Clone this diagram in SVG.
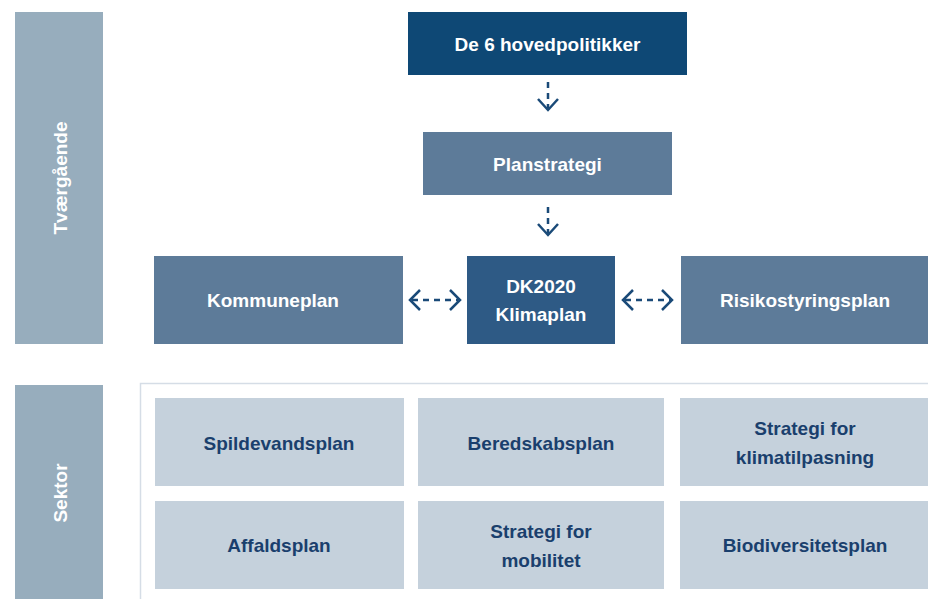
<svg xmlns="http://www.w3.org/2000/svg" width="928" height="599" viewBox="0 0 928 599">
<style>
.side{fill:#97adbd}
.t{font-family:"Liberation Sans",Arial,sans-serif;font-weight:bold;font-size:19px;text-anchor:middle;dominant-baseline:central}
.w{fill:#ffffff}
.d{fill:#1a3f6d}
.sec{fill:#c5d1dc}
.mid{fill:#5d7b99}
.con{fill:none;stroke:#1a4a78;stroke-width:2.5}
.dash{stroke-dasharray:6 5}
</style>
<rect width="928" height="599" fill="#ffffff"/>
<g id="tvaergaaende">
<rect class="side" x="15" y="12" width="88" height="332"/>
<text class="t w" transform="translate(60,178) rotate(-90)">Tværgående</text>
</g>
<g id="sektor">
<rect class="side" x="15" y="385" width="88" height="214"/>
<text class="t w" transform="translate(60,493) rotate(-90)">Sektor</text>
</g>
<g id="sektor-frame">
<path d="M140.5,599 V383.5 H928" fill="none" stroke="#d5dde6" stroke-width="1.5"/>
</g>
<g id="hovedpolitikker">
<rect x="408" y="12" width="279" height="63" fill="#0e4875"/>
<text class="t w" x="547.5" y="44">De 6 hovedpolitikker</text>
</g>
<g id="planstrategi">
<rect class="mid" x="423" y="132" width="249" height="63"/>
<text class="t w" x="547.5" y="164">Planstrategi</text>
</g>
<g id="kommuneplan">
<rect class="mid" x="154" y="256" width="249" height="88"/>
<text class="t w" x="273" y="300">Kommuneplan</text>
</g>
<g id="dk2020">
<rect x="467" y="256" width="148" height="88" fill="#2e5a85"/>
<text class="t w" x="541" y="286">DK2020</text>
<text class="t w" x="541" y="314">Klimaplan</text>
</g>
<g id="risikostyringsplan">
<rect class="mid" x="681" y="256" width="247" height="88"/>
<text class="t w" x="805" y="300">Risikostyringsplan</text>
</g>
<g id="spildevandsplan">
<rect class="sec" x="155" y="398" width="249" height="88"/>
<text class="t d" x="279" y="443">Spildevandsplan</text>
</g>
<g id="beredskabsplan">
<rect class="sec" x="418" y="398" width="246" height="88"/>
<text class="t d" x="541" y="443">Beredskabsplan</text>
</g>
<g id="klimatilpasning">
<rect class="sec" x="680" y="398" width="248" height="88"/>
<text class="t d" x="805" y="428">Strategi for</text>
<text class="t d" x="805" y="457">klimatilpasning</text>
</g>
<g id="affaldsplan">
<rect class="sec" x="155" y="501" width="249" height="88"/>
<text class="t d" x="279" y="545">Affaldsplan</text>
</g>
<g id="mobilitet">
<rect class="sec" x="418" y="501" width="246" height="88"/>
<text class="t d" x="541" y="531">Strategi for</text>
<text class="t d" x="541" y="560">mobilitet</text>
</g>
<g id="biodiversitetsplan">
<rect class="sec" x="680" y="501" width="248" height="88"/>
<text class="t d" x="805" y="545">Biodiversitetsplan</text>
</g>
<g id="connectors">
<path class="con dash" d="M548,82 V108"/>
<path class="con" d="M538,99 L548,110 L558,99"/>
<path class="con dash" d="M548,207 V233"/>
<path class="con" d="M538,224 L548,235 L558,224"/>
<path class="con dash" d="M412,300 H458"/>
<path class="con" d="M420,290 L410,300 L420,310 M450,290 L460,300 L450,310"/>
<path class="con dash" d="M625,300 H671"/>
<path class="con" d="M633,290 L623,300 L633,310 M662,290 L672,300 L662,310"/>
</g>
</svg>
